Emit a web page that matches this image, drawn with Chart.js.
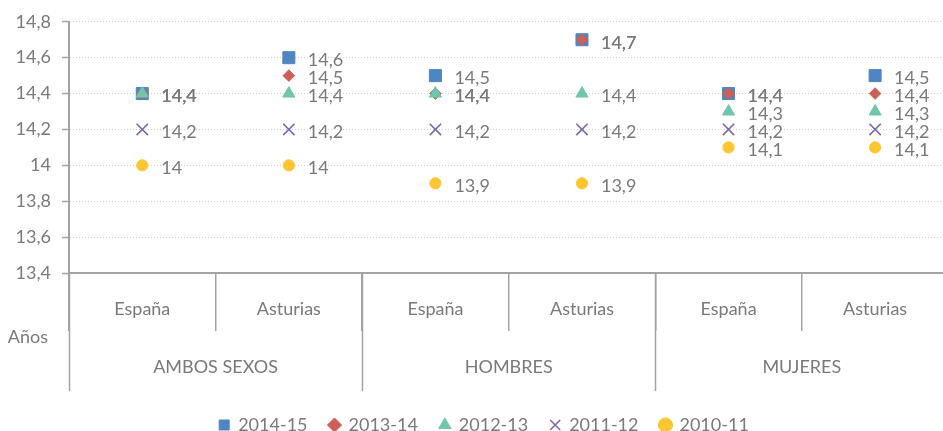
<!DOCTYPE html>
<html>
<head>
<meta charset="utf-8">
<script src="https://cdn.jsdelivr.net/npm/chart.js@4.4.0/dist/chart.umd.min.js"></script>
<style>
  html, body { margin: 0; padding: 0; background: #fff; overflow: hidden; }
  #wrap { width: 958px; height: 431px; position: relative; }
</style>
</head>
<body>
<div id="wrap"><canvas id="chart"></canvas></div>
<script>
// categories (two levels)
const regions = ['España', 'Asturias', 'España', 'Asturias', 'España', 'Asturias'];
const groups = ['AMBOS SEXOS', 'HOMBRES', 'MUJERES'];
const seasons = ['2014-15', '2013-14', '2012-13', '2011-12', '2010-11'];

// values per season
const v2014 = [14.4, 14.6, 14.5, 14.7, 14.4, 14.5];
const v2013 = [14.4, 14.5, 14.4, 14.7, 14.4, 14.4];
const v2012 = [14.4, 14.4, 14.4, 14.4, 14.3, 14.3];
const v2011 = [14.2, 14.2, 14.2, 14.2, 14.2, 14.2];
const v2010 = [14.0, 14.0, 13.9, 13.9, 14.1, 14.1];

const yMin = 13.4, yMax = 14.8, yStep = 0.2;
const unitLabel = 'Años';

const FONT = 'Lato, "Open Sans", sans-serif';
const FS = 18;
const TXT = '#7a7a7a';
const AXIS = '#a3a3a3';

const fmt = v => String(Math.round(v * 10) / 10).replace('.', ',');

function series(label, data, style, color, radius, order) {
  return {
    label, data, order,
    showLine: false,
    pointStyle: style,
    pointRadius: radius,
    pointHoverRadius: radius,
    backgroundColor: color,
    borderColor: color,
    pointBorderWidth: style === 'crossRot' ? 1.6 : 1
  };
}

// value labels to the right of each point
const valueLabels = {
  id: 'valueLabels',
  afterDatasetsDraw(chart) {
    const ctx = chart.ctx;
    ctx.save();
    ctx.font = FS + 'px ' + FONT;
    ctx.fillStyle = TXT;
    ctx.textAlign = 'left';
    ctx.textBaseline = 'middle';
    chart.data.datasets.forEach((ds, i) => {
      chart.getDatasetMeta(i).data.forEach((pt, j) => {
        ctx.fillText(fmt(ds.data[j]), pt.x + 19, pt.y + 3);
      });
    });
    ctx.restore();
  }
};

// group row under the region labels
const groupAxis = {
  id: 'groupAxis',
  afterDraw(chart) {
    const ctx = chart.ctx, x = chart.scales.x, area = chart.chartArea;
    const step = x.getPixelForValue(1) - x.getPixelForValue(0);
    const bottom = area.bottom + 118;
    ctx.save();
    ctx.strokeStyle = AXIS;
    ctx.lineWidth = 1.5;
    for (let g = 0; g <= groups.length; g++) {
      const px = Math.round(x.getPixelForValue(g * 2) - step / 2) + 0.5;
      ctx.beginPath();
      ctx.moveTo(px, area.bottom);
      ctx.lineTo(px, bottom);
      ctx.stroke();
    }
    ctx.font = FS + 'px ' + FONT;
    ctx.fillStyle = TXT;
    ctx.textAlign = 'center';
    ctx.textBaseline = 'middle';
    groups.forEach((g, i) => {
      const cx = (x.getPixelForValue(i * 2) + x.getPixelForValue(i * 2 + 1)) / 2;
      ctx.fillText(g, cx, area.bottom + 94);
    });
    ctx.textAlign = 'right';
    ctx.fillText(unitLabel, 48, area.bottom + 64);
    ctx.restore();
  }
};

new Chart(document.getElementById('chart'), {
  type: 'line',
  data: {
    labels: regions,
    datasets: [
      series(seasons[0], v2014, 'rect', '#4f86c2', 8.5, 4),
      series(seasons[1], v2013, 'rectRot', '#cc5f58', 5.8, 3),
      series(seasons[2], v2012, 'triangle', '#70c6a8', 7, 2),
      series(seasons[3], v2011, 'crossRot', '#7d67ad', 8, 1),
      series(seasons[4], v2010, 'circle', '#fdc631', 5.6, 0)
    ]
  },
  options: {
    responsive: true,
    maintainAspectRatio: false,
    animation: false,
    layout: { padding: { top: 10, right: 0, bottom: -13, left: 10 } },
    plugins: {
      tooltip: { enabled: false },
      legend: {
        position: 'bottom',
        labels: {
          usePointStyle: true,
          boxWidth: 10,
          boxHeight: 10,
          padding: 22,
          color: TXT,
          font: { size: FS, family: FONT },
          sort: (a, b) => a.datasetIndex - b.datasetIndex
        }
      }
    },
    scales: {
      x: {
        offset: true,
        afterFit: s => { s.height = 121; },
        grid: {
          offset: true,
          drawOnChartArea: false,
          drawTicks: true,
          tickLength: 58,
          color: AXIS,
          lineWidth: 1.5
        },
        border: { color: AXIS, width: 2 },
        ticks: {
          color: TXT,
          font: { size: FS, family: FONT },
          padding: -33,
          maxRotation: 0,
          autoSkip: false
        }
      },
      y: {
        min: yMin,
        max: yMax,
        afterFit: s => { s.width = 59; },
        grid: {
          color: '#cdcdcd',
          lineWidth: 1,
          drawTicks: true,
          tickLength: 7,
          tickColor: AXIS,
          tickWidth: 1.5,
          tickBorderDash: []
        },
        border: { color: AXIS, width: 2, dash: [1, 2] },
        ticks: {
          stepSize: yStep,
          color: TXT,
          padding: 11,
          font: { size: FS, family: FONT },
          callback: v => fmt(v)
        }
      }
    }
  },
  plugins: [valueLabels, groupAxis]
});
</script>
</body>
</html>
